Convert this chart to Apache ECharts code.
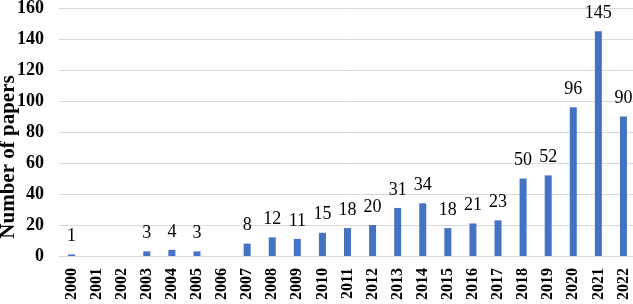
<!DOCTYPE html>
<html>
<head>
<meta charset="utf-8">
<script src="https://cdn.jsdelivr.net/npm/echarts@6/dist/echarts.min.js"></script>
<style>
  html, body { margin: 0; padding: 0; background: #fff; }
  #chart { width: 633px; height: 304px; }
</style>
</head>
<body>
<div id="chart"></div>
<script>
// years and paper counts
var years = ['2000', '2001', '2002', '2003', '2004', '2005', '2006', '2007', '2008', '2009', '2010', '2011',
  '2012', '2013', '2014', '2015', '2016', '2017', '2018', '2019', '2020', '2021', '2022'];
var papers = [1, 0, 0, 3, 4, 3, 0, 8, 12, 11, 15, 18, 20, 31, 34, 18, 21, 23, 50, 52, 96, 145, 90];
var yTitle = 'Number of papers';

var font = '"Liberation Serif", "Times New Roman", serif';

var myChart = echarts.init(document.getElementById('chart'));
var option = {
  animation: false,
  grid: { left: 59, right: -3, top: 8, bottom: 48, containLabel: false, outerBoundsMode: 'none' },
  // y title drawn as graphic so it can sit a bit below the grid centre like the original
  graphic: [{
    type: 'text',
    x: 9,
    y: 157,
    rotation: Math.PI / 2,
    style: {
      text: yTitle,
      fontFamily: font,
      fontWeight: 'bold',
      fontSize: 21,
      fill: '#000',
      align: 'center',
      verticalAlign: 'middle'
    }
  }],
  xAxis: {
    type: 'category',
    data: years,
    axisLine: { show: false },
    axisTick: { show: false },
    axisLabel: {
      rotate: 90,
      interval: 0,
      margin: 12,
      color: '#000',
      fontFamily: font,
      fontWeight: 'bold',
      fontSize: 16
    }
  },
  yAxis: {
    type: 'value',
    min: 0,
    max: 160,
    interval: 20,
    axisLine: { show: false },
    axisTick: { show: false },
    axisLabel: { color: '#000', fontFamily: font, fontWeight: 'bold', fontSize: 18, margin: 15 },
    splitLine: { lineStyle: { color: '#d9d9d9', width: 1 } }
  },
  series: [{
    type: 'bar',
    data: papers,
    barWidth: 7,
    itemStyle: { color: '#4472c4' },
    label: {
      show: true,
      position: 'top',
      distance: 9,
      color: '#000',
      fontFamily: font,
      fontSize: 18,
      formatter: function (p) { return p.value === 0 ? '' : p.value; }
    }
  }]
};
myChart.setOption(option);
</script>
</body>
</html>
